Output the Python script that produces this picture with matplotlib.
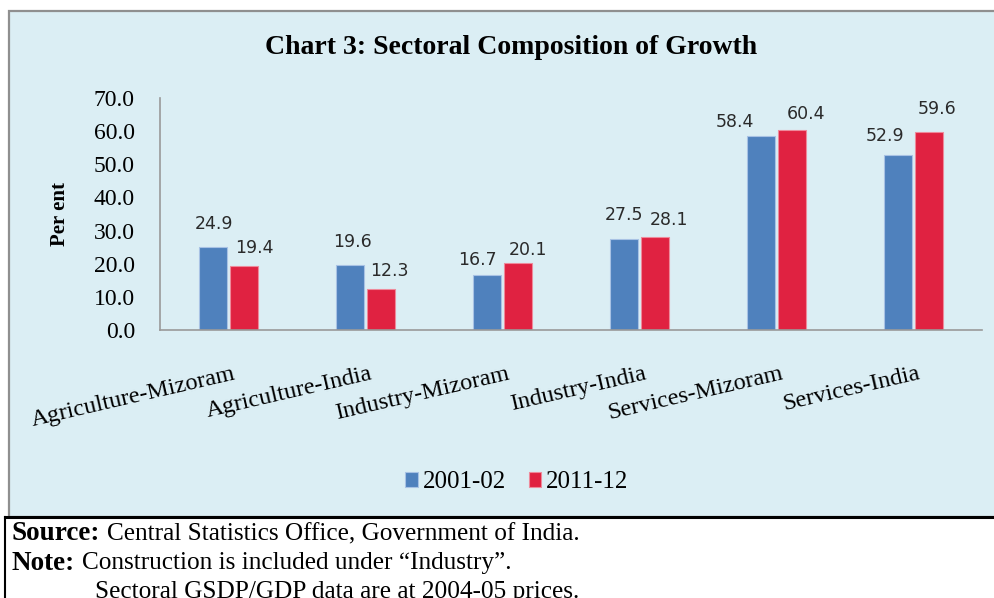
import numpy as np
import matplotlib
matplotlib.use("Agg")
import matplotlib.pyplot as plt
from matplotlib.patches import Rectangle
from matplotlib.lines import Line2D

# -----------------------------
# Data
# -----------------------------
categories = ["Agriculture-Mizoram", "Agriculture-India", "Industry-Mizoram",
              "Industry-India", "Services-Mizoram", "Services-India"]
series_names = ["2001-02", "2011-12"]
values_2001 = [24.9, 19.6, 16.7, 27.5, 58.4, 52.9]
values_2011 = [19.4, 12.3, 20.1, 28.1, 60.4, 59.6]
y_ticks = [0, 10, 20, 30, 40, 50, 60, 70]

title_text = "Chart 3: Sectoral Composition of Growth"
y_label = "Per ent"
source_lines = [
    ("Source:", "Central Statistics Office, Government of India."),
    ("Note:", "Construction is included under \u201cIndustry\u201d."),
]
note_extra = "Sectoral GSDP/GDP data are at 2004-05 prices."

# hand-placed data labels in the original (pixel nudges from the bar top)
nudge_2001 = [(1, 23), (2, 23), (-10, 15), (0, 24), (-26, 14), (-13, 19)]
nudge_2011 = [(10, 18), (8, 18), (10, 13), (14, 17), (14, 16), (8, 23)]

blue = "#4F81BD"
red = "#E02241"
bg = "#DBEEF4"
serif = "Liberation Serif"

W, H = 995, 598
fig = plt.figure(figsize=(W / 100, H / 100), dpi=100)

def fx(px):
    return px / W

def fy(py):
    return 1 - py / H

# chart panel
fig.patches.append(Rectangle((fx(9), fy(517)), 1.0, fy(11) - fy(517),
                             transform=fig.transFigure, facecolor=bg,
                             edgecolor="#8f8f8f", linewidth=1.6, zorder=-5))
# black frame of the note box
fig.lines.append(Line2D([fx(5), 1.0], [fy(517), fy(517)], transform=fig.transFigure,
                        color="black", linewidth=2.2, zorder=-4))
fig.lines.append(Line2D([fx(5), fx(5)], [fy(517), 0], transform=fig.transFigure,
                        color="black", linewidth=1.5, zorder=-4))

ax = fig.add_axes([fx(160), fy(330), fx(982) - fx(160), fy(98) - fy(330)])
ax.set_facecolor("none")
ax.set_zorder(2)

x = np.arange(len(categories))
w = 0.21
off = 0.113
b1 = ax.bar(x - off, values_2001, w, color=blue, edgecolor="#a8c2e4", linewidth=0.8,
            label=series_names[0])
b2 = ax.bar(x + off, values_2011, w, color=red, edgecolor="#ee8a9b", linewidth=0.8,
            label=series_names[1])

for xi, v, (dx, dy) in zip(x, values_2001, nudge_2001):
    ax.annotate(f"{v:.1f}", (xi - off, v), xytext=(dx, dy), textcoords="offset pixels",
                ha="center", va="center", fontsize=12.5, color="#2a2a2a")
for xi, v, (dx, dy) in zip(x, values_2011, nudge_2011):
    ax.annotate(f"{v:.1f}", (xi + off, v), xytext=(dx, dy), textcoords="offset pixels",
                ha="center", va="center", fontsize=12.5, color="#2a2a2a")

ax.set_xlim(-0.5, len(categories) - 0.5)
ax.set_ylim(0, 70)
ax.set_yticks(y_ticks)
ax.set_yticklabels([f"{t:.1f}" for t in y_ticks], family=serif, fontsize=17)
ax.tick_params(axis="y", length=0, pad=18)
ax.set_xticks(x + 0.03)
ax.set_xticklabels(categories, family=serif, fontsize=17.5, rotation=13,
                   ha="right", va="top", rotation_mode="anchor")
ax.tick_params(axis="x", length=0, pad=24)

for s in ["top", "right"]:
    ax.spines[s].set_visible(False)
ax.spines["left"].set_color("#999999")
ax.spines["bottom"].set_color("#999999")
ax.spines["left"].set_linewidth(1.2)
ax.spines["bottom"].set_linewidth(1.2)

fig.text(fx(511), fy(48), title_text, ha="center", va="center",
         family=serif, fontsize=20, fontweight="bold")
fig.text(fx(60), fy(214), y_label, ha="center", va="center", rotation=90,
         family=serif, fontsize=15, fontweight="bold")

fig.legend(handles=[b1, b2], labels=series_names, loc="center",
           bbox_to_anchor=(fx(517), fy(482)), ncol=2, frameon=False,
           prop={"family": serif, "size": 18}, handlelength=0.5, handleheight=0.55,
           handletextpad=0.2, columnspacing=0.9)

ys = [534, 563]
for (bold, rest), yy in zip(source_lines, ys):
    t1 = fig.text(fx(12), fy(yy), bold, ha="left", va="center",
                  family=serif, fontsize=19.5, fontweight="bold")
    ax.annotate(rest, xy=(1, 0.5), xycoords=t1, xytext=(7, 0),
                textcoords="offset pixels", ha="left", va="center",
                family=serif, fontsize=18.2, annotation_clip=False)
fig.text(fx(95), fy(592), note_extra, ha="left", va="center", family=serif, fontsize=18.2)

fig.savefig("out.png", dpi=100)
